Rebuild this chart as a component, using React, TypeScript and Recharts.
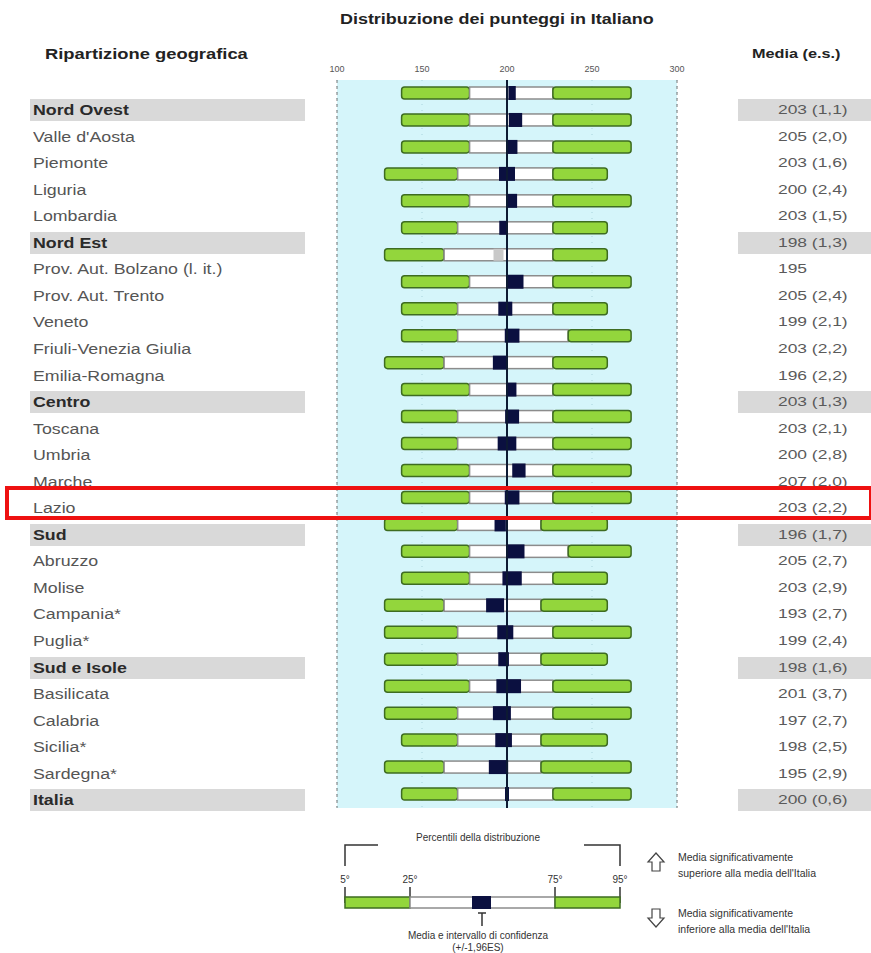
import React from "react";
import { ComposedChart, Bar, XAxis, YAxis, CartesianGrid, ReferenceLine } from "recharts";

// regions, top to bottom
const regions = [
  "Nord Ovest", "Valle d'Aosta", "Piemonte", "Liguria", "Lombardia",
  "Nord Est", "Prov. Aut. Bolzano (l. it.)", "Prov. Aut. Trento", "Veneto", "Friuli-Venezia Giulia", "Emilia-Romagna",
  "Centro", "Toscana", "Umbria", "Marche", "Lazio",
  "Sud", "Abruzzo", "Molise", "Campania*", "Puglia*",
  "Sud e Isole", "Basilicata", "Calabria", "Sicilia*", "Sardegna*",
  "Italia",
];
const groupRows = ["Nord Ovest", "Nord Est", "Centro", "Sud", "Sud e Isole", "Italia"];

// percentiles of the score distribution
const p5 = [138, 138, 138, 128, 138, 138, 128, 138, 138, 138, 128, 138, 138, 138, 138, 138, 128, 138, 138, 128, 128, 128, 128, 128, 138, 128, 138];
const p25 = [178, 178, 178, 171, 178, 171, 163, 178, 171, 171, 163, 178, 171, 171, 178, 178, 171, 178, 178, 163, 171, 171, 178, 171, 171, 163, 171];
const p75 = [227, 227, 227, 227, 227, 227, 227, 227, 227, 236, 227, 227, 227, 227, 227, 227, 220, 236, 227, 220, 227, 220, 227, 227, 220, 220, 227];
const p95 = [273, 273, 273, 259, 273, 259, 259, 273, 259, 273, 259, 273, 273, 273, 273, 273, 259, 273, 259, 259, 273, 259, 273, 273, 259, 273, 273];

// mean and standard error (e.s.)
const means = [203, 205, 203, 200, 203, 198, 195, 205, 199, 203, 196, 203, 203, 200, 207, 203, 196, 205, 203, 193, 199, 198, 201, 197, 198, 195, 200];
const stdErrors: (number | null)[] = [1.1, 2.0, 1.6, 2.4, 1.5, 1.3, null, 2.4, 2.1, 2.2, 2.2, 1.3, 2.1, 2.8, 2.0, 2.2, 1.7, 2.7, 2.9, 2.7, 2.4, 1.6, 3.7, 2.7, 2.5, 2.9, 0.6];

const axisTicks = [100, 150, 200, 250, 300];
const italyMean = 200;
const highlighted = "Lazio";

const GREEN = "#93d63c";
const GREEN_EDGE = "#3e6c21";
const NAVY = "#0b1040";
const FONT = "'Liberation Sans', Arial, sans-serif";

const data = regions.map((name, i) => ({
  name,
  base: p5[i],
  low: p25[i] - p5[i],
  mid: p75[i] - p25[i],
  high: p95[i] - p75[i],
  p25: p25[i],
  p75: p75[i],
  mean: means[i],
  se: stdErrors[i],
}));

// white 25-75 segment with the confidence box of the mean on top
const MiddleShape = (props: any) => {
  const { x, y, width, height, payload } = props;
  const unit = width / (payload.p75 - payload.p25);
  let box;
  if (payload.se != null) {
    const lo = x + (payload.mean - 1.96 * payload.se - payload.p25) * unit;
    const hi = x + (payload.mean + 1.96 * payload.se - payload.p25) * unit;
    box = <rect x={lo} y={y - 1} width={hi - lo} height={height + 2} fill={NAVY} />;
  } else {
    const c = x + (payload.mean - payload.p25) * unit;
    box = <rect x={c - 5} y={y} width={10} height={height} fill="#c9c9c9" />;
  }
  return (
    <g>
      <rect x={x} y={y} width={width} height={height} fill="#ffffff" stroke="#8c8c8c" strokeWidth={1.5} />
      {box}
    </g>
  );
};

const fmt = (m: number, se: number | null) =>
  se == null ? `${m}` : `${m} (${se.toFixed(1).replace(".", ",")})`;

const LABEL_TOP = 110;
const LABEL_STEP = 26.55;

const stretch = (sx: number): React.CSSProperties => ({
  display: "inline-block",
  transform: `scaleX(${sx})`,
  transformOrigin: "left center",
  whiteSpace: "nowrap",
});

const Legend = () => (
  <svg width={871} height={953} style={{ position: "absolute", left: 0, top: 0, pointerEvents: "none" }}>
    <g stroke="#333" strokeWidth={1.5} fill="none">
      <polyline points="345,866 345,845 378,845" />
      <polyline points="584,845 620,845 620,866" />
    </g>
    <text x={478} y={841} fontSize={10} textAnchor="middle" fill="#333" fontFamily={FONT}>Percentili della distribuzione</text>
    {[["5°", 345], ["25°", 410], ["75°", 555], ["95°", 620]].map(([t, x]) => (
      <g key={t as string}>
        <text x={x as number} y={883} fontSize={10} textAnchor="middle" fill="#333" fontFamily={FONT}>{t}</text>
        <line x1={x as number} x2={x as number} y1={887} y2={903} stroke="#333" strokeWidth={1.5} />
      </g>
    ))}
    <rect x={345} y={897} width={65} height={11} fill={GREEN} stroke={GREEN_EDGE} strokeWidth={1.5} />
    <rect x={410} y={897} width={145} height={11} fill="#fff" stroke="#8c8c8c" strokeWidth={1.5} />
    <rect x={555} y={897} width={65} height={11} fill={GREEN} stroke={GREEN_EDGE} strokeWidth={1.5} />
    <rect x={472} y={896} width={19} height={13} fill={NAVY} />
    <line x1={482} x2={482} y1={913} y2={926} stroke="#333" strokeWidth={1.5} />
    <line x1={478} x2={486} y1={913} y2={913} stroke="#333" strokeWidth={1.5} />
    <text x={478} y={939} fontSize={10} textAnchor="middle" fill="#333" fontFamily={FONT}>Media e intervallo di confidenza</text>
    <text x={478} y={951} fontSize={10} textAnchor="middle" fill="#333" fontFamily={FONT}>(+/-1,96ES)</text>

    <path d="M656,853 L664,862 L660,862 L660,871 L652,871 L652,862 L648,862 Z" fill="#fff" stroke="#444" strokeWidth={1.2} />
    <path d="M656,927 L664,918 L660,918 L660,909 L652,909 L652,918 L648,918 Z" fill="#fff" stroke="#444" strokeWidth={1.2} />
    <text x={678} y={861} fontSize={10.5} fill="#333" fontFamily={FONT}>Media significativamente</text>
    <text x={678} y={877} fontSize={10.5} fill="#333" fontFamily={FONT}>superiore alla media dell'Italia</text>
    <text x={678} y={917} fontSize={10.5} fill="#333" fontFamily={FONT}>Media significativamente</text>
    <text x={678} y={933} fontSize={10.5} fill="#333" fontFamily={FONT}>inferiore alla media dell'Italia</text>
  </svg>
);

export default function App() {
  return (
    <div style={{ position: "absolute", left: 0, top: 0, width: 871, height: 953, background: "#fff", overflow: "hidden", fontFamily: FONT }}>
      {/* row highlights */}
      {regions.map((name, i) =>
        groupRows.includes(name) ? (
          <React.Fragment key={"hl" + name}>
            <div style={{ position: "absolute", left: 30, top: LABEL_TOP + i * LABEL_STEP - 11, width: 275, height: 22, background: "#d9d9d9" }} />
            <div style={{ position: "absolute", left: 738, top: LABEL_TOP + i * LABEL_STEP - 11, width: 133, height: 22, background: "#d9d9d9" }} />
          </React.Fragment>
        ) : null
      )}

      <ComposedChart
        width={871}
        height={953}
        data={data}
        layout="vertical"
        margin={{ top: 56, right: 194, bottom: 145, left: 337 }}
        barSize={12}
        style={{ position: "absolute", left: 0, top: 0 }}
      >
        <CartesianGrid horizontal={false} vertical={true} fill="#d5f5fa" stroke="#a9d3dc" strokeDasharray="1 5" />
        <XAxis
          type="number"
          orientation="top"
          domain={[100, 300]}
          allowDataOverflow
          ticks={axisTicks}
          height={24}
          axisLine={false}
          tickLine={false}
          tick={{ fontSize: 9, fill: "#555", fontFamily: FONT }}
        />
        <YAxis type="category" dataKey="name" hide width={0} />
        <ReferenceLine x={100} stroke="#777" strokeDasharray="3 3" />
        <ReferenceLine x={300} stroke="#777" strokeDasharray="3 3" />
        <Bar dataKey="base" stackId="a" fill="transparent" isAnimationActive={false} />
        <Bar dataKey="low" stackId="a" fill={GREEN} stroke={GREEN_EDGE} strokeWidth={1.5} radius={3} isAnimationActive={false} />
        <Bar dataKey="mid" stackId="a" shape={<MiddleShape />} isAnimationActive={false} />
        <Bar dataKey="high" stackId="a" fill={GREEN} stroke={GREEN_EDGE} strokeWidth={1.5} radius={3} isAnimationActive={false} />
        <ReferenceLine x={italyMean} stroke="#0d1a33" strokeWidth={2} />
      </ComposedChart>

      {/* headers */}
      <div style={{ position: "absolute", left: 340, top: 11, fontSize: 14, fontWeight: "bold", color: "#222" }}>
        <span style={stretch(1.28)}>Distribuzione dei punteggi in Italiano</span>
      </div>
      <div style={{ position: "absolute", left: 45, top: 46, fontSize: 14, fontWeight: "bold", color: "#222" }}>
        <span style={stretch(1.31)}>Ripartizione geografica</span>
      </div>
      <div style={{ position: "absolute", left: 752, top: 46, fontSize: 13, fontWeight: "bold", color: "#222" }}>
        <span style={stretch(1.25)}>Media (e.s.)</span>
      </div>

      {/* region labels and values */}
      {regions.map((name, i) => {
        const g = groupRows.includes(name);
        const top = LABEL_TOP + i * LABEL_STEP - 9;
        return (
          <React.Fragment key={name}>
            <div style={{ position: "absolute", left: 33, top, fontSize: 14, lineHeight: "18px", fontWeight: g ? "bold" : "normal", color: g ? "#2a2a2a" : "#555" }}>
              <span style={stretch(1.27)}>{name}</span>
            </div>
            <div style={{ position: "absolute", left: 778, top: top + 1, fontSize: 12, lineHeight: "16px", color: "#5a5a5a" }}>
              <span style={stretch(1.45)}>{fmt(means[i], stdErrors[i])}</span>
            </div>
          </React.Fragment>
        );
      })}

      <Legend />

      {/* highlight frame */}
      {regions.map((name, i) =>
        name === highlighted ? (
          <div key="frame" style={{ position: "absolute", left: 5, top: LABEL_TOP + i * LABEL_STEP - 22, width: 860, height: 26, border: "4px solid #ee1111" }} />
        ) : null
      )}
    </div>
  );
}
